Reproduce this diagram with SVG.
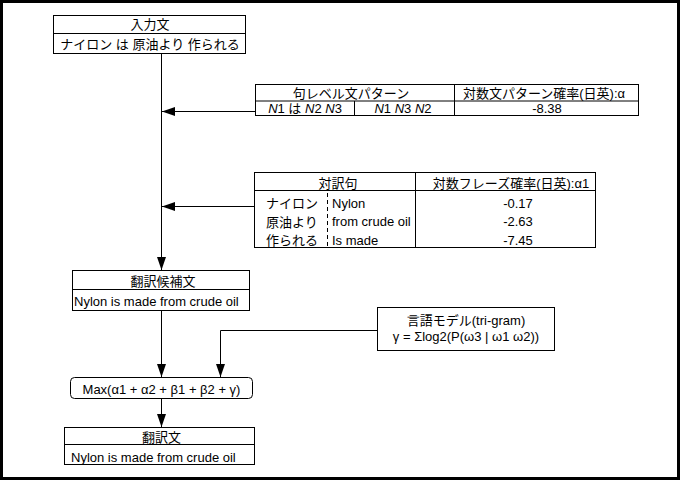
<svg xmlns="http://www.w3.org/2000/svg" width="680" height="480" viewBox="0 0 680 480">
<defs>
<style>
text{font-family:"Liberation Sans","Noto Sans CJK JP",sans-serif;font-size:13px;fill:#000}
.c{text-anchor:middle}
.box{fill:#fff;stroke:#000;stroke-width:1}
.ln{stroke:#000;stroke-width:1;fill:none}
.conn{stroke:#000;stroke-width:1;fill:none;marker-end:url(#ah)}
</style>
<marker id="ah" markerUnits="userSpaceOnUse" markerWidth="14" markerHeight="10" refX="13" refY="4.5" orient="auto">
<path d="M0,0 L13,4.5 L0,9 z" fill="#000"/>
</marker>
</defs>
<rect x="0" y="0" width="680" height="480" fill="#fff"/>
<rect x="1.5" y="1.5" width="677" height="477" fill="none" stroke="#000" stroke-width="3"/>

<g id="connectors">
<line class="conn" x1="161.5" y1="53.5" x2="161.5" y2="270"/>
<line class="conn" x1="255.5" y1="111.5" x2="162" y2="111.5"/>
<line class="conn" x1="254.5" y1="206.5" x2="162" y2="206.5"/>
<line class="conn" x1="161.5" y1="310.5" x2="161.5" y2="377"/>
<path class="conn" d="M377.5,330.5 H220.5 V377"/>
<line class="conn" x1="161.5" y1="398.5" x2="161.5" y2="427"/>
</g>

<g id="input">
<rect class="box" x="53.5" y="15.5" width="192" height="38"/>
<line class="ln" x1="53.5" y1="33.5" x2="245.5" y2="33.5" stroke-width="2"/>
<text class="c" x="150" y="29">入力文</text>
<text class="c" x="150" y="48.5" font-size="12">ナイロン は 原油より 作られる</text>
</g>

<g id="pattern">
<rect class="box" x="255.5" y="84.5" width="383" height="31"/>
<line class="ln" x1="255.5" y1="101" x2="638.5" y2="101"/>
<line class="ln" x1="454.5" y1="84.5" x2="454.5" y2="115.5"/>
<line class="ln" x1="354.5" y1="101" x2="354.5" y2="115.5"/>
<text class="c" x="351" y="98">句レベル文パターン</text>
<text class="c" x="544" y="98">対数文パターン確率(日英):α</text>
<text class="c" x="305" y="113"><tspan font-style="italic">N</tspan>1 は <tspan font-style="italic">N</tspan>2 <tspan font-style="italic">N</tspan>3</text>
<text class="c" x="403" y="113"><tspan font-style="italic">N</tspan>1 <tspan font-style="italic">N</tspan>3 <tspan font-style="italic">N</tspan>2</text>
<text class="c" x="547" y="113" font-size="13.5">-8.38</text>
</g>

<g id="phrase">
<rect class="box" x="254.5" y="172.5" width="341" height="75"/>
<line class="ln" x1="254.5" y1="190.5" x2="595.5" y2="190.5"/>
<line class="ln" x1="415.5" y1="172.5" x2="415.5" y2="247.5"/>
<line class="ln" x1="327.5" y1="193" x2="327.5" y2="247" stroke-dasharray="4,3"/>
<text class="c" x="338" y="187.5">対訳句</text>
<text class="c" x="511" y="187.5">対数フレーズ確率(日英):α1</text>
<text x="266" y="208.3">ナイロン</text>
<text x="266" y="226.7">原油より</text>
<text x="266" y="245">作られる</text>
<text x="332" y="208">Nylon</text>
<text x="332" y="226.4">from crude oil</text>
<text x="332" y="244.7">Is made</text>
<text class="c" x="518" y="208" font-size="13.5">-0.17</text>
<text class="c" x="518" y="226.4" font-size="13.5">-2.63</text>
<text class="c" x="518" y="244.7" font-size="13.5">-7.45</text>
</g>

<g id="candidate">
<rect class="box" x="72.5" y="270.5" width="177" height="40"/>
<line class="ln" x1="72.5" y1="289.5" x2="249.5" y2="289.5"/>
<text class="c" x="163" y="286">翻訳候補文</text>
<text x="74" y="306" font-size="13.8">Nylon is made from crude oil</text>
</g>

<g id="lm">
<rect class="box" x="377.5" y="307.5" width="177" height="43"/>
<text class="c" x="466" y="325">言語モデル(tri-gram)</text>
<text class="c" x="466" y="340.5">γ = Σlog2(P(ω3 | ω1 ω2))</text>
</g>

<g id="max">
<rect class="box" x="70.5" y="377.5" width="182" height="21" rx="4"/>
<text class="c" x="161.5" y="394" font-size="13.5">Max(α1 + α2 + β1 + β2 + γ)</text>
</g>

<g id="result">
<rect class="box" x="64.5" y="427.5" width="190" height="37"/>
<line class="ln" x1="64.5" y1="444.5" x2="254.5" y2="444.5"/>
<text class="c" x="161.5" y="441.5">翻訳文</text>
<text x="71" y="461.5" font-size="13.8">Nylon is made from crude oil</text>
</g>
</svg>
